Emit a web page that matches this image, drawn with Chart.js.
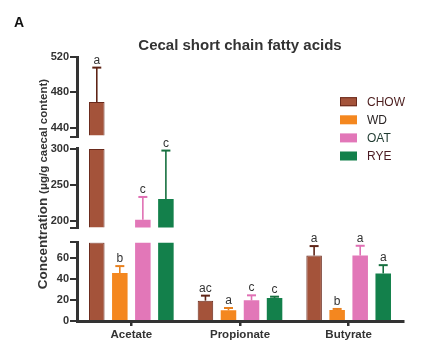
<!DOCTYPE html>
<html><head><meta charset="utf-8">
<script src="https://cdn.jsdelivr.net/npm/chart.js@4.4.1/dist/chart.umd.min.js"></script>
<style>html,body{margin:0;padding:0;background:#fff;}</style>
</head><body>
<canvas id="c" width="438" height="345"></canvas>
<script>
// ---- data ----
const categories = ['Acetate', 'Propionate', 'Butyrate'];
const seriesNames = ['CHOW', 'WD', 'OAT', 'RYE'];
const chowValues = [469, 19.4, 62.5];
const wdValues   = [45.7, 10.2, 10.5];
const oatValues  = [202, 19.7, 62.6];
const ryeValues  = [230.7, 21.9, 45.4];
const chowErr = [39, 4.8, 9];
const wdErr   = [6.7, 2.2, 1];
const oatErr  = [31.5, 4.8, 9.2];
const ryeErr  = [67, 1.3, 7.9];
const chowLetters = ['a', 'ac', 'a'];
const wdLetters   = ['b', 'a', 'b'];
const oatLetters  = ['c', 'c', 'a'];
const ryeLetters  = ['c', 'c', 'a'];
const bottomTicks = [0, 20, 40, 60, 75];
const middleTicks = [190, 200, 250, 300];
const topTicks    = [430, 440, 480, 520];
const breakEnds   = [75, 190, 430];

// ---- styling ----
const fills   = ['#a4533a', '#f4871f', '#e277b8', '#13804b'];
const borders = ['#6a2a1c', '#f4871f', '#e277b8', '#13804b'];
const errCols = ['#5e2416', '#e8801e', '#e070b4', '#16703f'];
const legendText = ['#4a1c1c', '#2a2424', '#1f3a30', '#4a1c24'];
const values = [chowValues, wdValues, oatValues, ryeValues];
const errs = [chowErr, wdErr, oatErr, ryeErr];
const letters = [chowLetters, wdLetters, oatLetters, ryeLetters];

const segments = [
  {id: 'yBot', ticks: bottomTicks, weight: 1, stackWeight: 78.4},
  {id: 'yMid', ticks: middleTicks, weight: 3, stackWeight: 79.3},
  {id: 'yTop', ticks: topTicks, weight: 5, stackWeight: 79.4}
];
segments.forEach(s => { s.min = s.ticks[0]; s.max = s.ticks[s.ticks.length - 1]; });

const AXW = 77;
const datasets = [];
segments.forEach(seg => {
  seriesNames.forEach((name, si) => {
    datasets.push({
      label: name,
      data: values[si].map(v => v > seg.min ? Math.min(v, seg.max) : null),
      yAxisID: seg.id,
      stack: name,
      base: seg.min,
      backgroundColor: fills[si],
      borderColor: borders[si],
      borderWidth: si === 0 ? 1 : 0,
      borderSkipped: 'start',
      barPercentage: 0.674,
      categoryPercentage: 0.848,
      clip: 0
    });
  });
});

function yAxis(seg) {
  return {
    type: 'linear', position: 'left', stack: 'ys', stackWeight: seg.stackWeight, weight: seg.weight,
    min: seg.min, max: seg.max, stacked: false,
    afterBuildTicks: sc => { sc.ticks = seg.ticks.map(v => ({value: v})); },
    afterFit: sc => { sc.width = AXW; },
    grid: {drawOnChartArea: false, drawTicks: true, tickLength: 7, lineWidth: 2, color: '#333'},
    border: {display: true, color: '#333', width: 3},
    ticks: {autoSkip: false, padding: 1, color: '#333', font: {family: 'Liberation Sans, Arial, sans-serif', size: 11, weight: 'bold'},
      callback: v => breakEnds.includes(v) ? '' : String(v)}
  };
}
function gapAxis(w, weight) {
  return {
    type: 'linear', position: 'left', stack: 'ys', stackWeight: w, weight: weight, min: 0, max: 1,
    afterFit: sc => { sc.width = AXW; },
    grid: {display: false}, border: {display: false}, ticks: {display: false}
  };
}

const overlay = {
  id: 'overlay',
  afterDatasetsDraw(chart) {
    const ctx = chart.ctx;
    ctx.save();
    seriesNames.forEach((name, si) => {
      const meta = chart.getDatasetMeta(si);
      categories.forEach((cat, ci) => {
        const x = meta.data[ci].x;
        const v = values[si][ci];
        const top = v + errs[si][ci];
        ctx.strokeStyle = errCols[si];
        segments.forEach(seg => {
          const sc = chart.scales[seg.id];
          const lo = Math.max(v, seg.min), hi = Math.min(top, seg.max);
          if (hi > lo) {
            ctx.lineWidth = 1.6;
            ctx.beginPath();
            ctx.moveTo(x, sc.getPixelForValue(lo));
            ctx.lineTo(x, sc.getPixelForValue(hi));
            ctx.stroke();
          }
          if (top >= seg.min && top <= seg.max) {
            const yt = sc.getPixelForValue(top);
            ctx.lineWidth = 2;
            ctx.beginPath();
            ctx.moveTo(x - 4.5, yt);
            ctx.lineTo(x + 4.5, yt);
            ctx.stroke();
            ctx.fillStyle = '#333';
            ctx.font = '12px "Liberation Sans", Arial, sans-serif';
            ctx.textAlign = 'center';
            ctx.textBaseline = 'alphabetic';
            ctx.fillText(letters[si][ci], x, yt - 4);
          }
        });
      });
    });
    ctx.restore();
  },
  afterDraw(chart) {
    const ctx = chart.ctx;
    const ca = chart.chartArea;
    ctx.save();
    // panel letter
    ctx.fillStyle = '#111';
    ctx.font = 'bold 14px "Liberation Sans", Arial, sans-serif';
    ctx.textAlign = 'left';
    ctx.textBaseline = 'alphabetic';
    ctx.fillText('A', 14, 27);
    // title
    ctx.fillStyle = '#333';
    ctx.font = 'bold 15px "Liberation Sans", Arial, sans-serif';
    ctx.textAlign = 'center';
    ctx.fillText('Cecal short chain fatty acids', (ca.left + ca.right) / 2, 50);
    // y title
    const p1 = 'Concentration ', p2 = '(\u03bcg/g caecal content)';
    const f1 = 'bold 13.5px "Liberation Sans", Arial, sans-serif';
    const f2 = 'bold 11.5px "Liberation Sans", Arial, sans-serif';
    ctx.font = f1; const w1 = ctx.measureText(p1).width;
    ctx.font = f2; const w2 = ctx.measureText(p2).width;
    ctx.translate(47, 184);
    ctx.rotate(-Math.PI / 2);
    ctx.textAlign = 'left';
    ctx.font = f1; ctx.fillText(p1, -(w1 + w2) / 2, 0);
    ctx.font = f2; ctx.fillText(p2, -(w1 + w2) / 2 + w1, 0);
    ctx.setTransform(1, 0, 0, 1, 0, 0);
    // legend
    ctx.font = '12px "Liberation Sans", Arial, sans-serif';
    ctx.textBaseline = 'middle';
    ctx.textAlign = 'left';
    seriesNames.forEach((name, si) => {
      const yc = 101.7 + si * 18.1;
      ctx.fillStyle = fills[si];
      ctx.fillRect(340, yc - 4.5, 17, 9);
      if (si === 0) { ctx.strokeStyle = borders[0]; ctx.lineWidth = 1; ctx.strokeRect(340.5, yc - 4, 16, 8); }
      ctx.fillStyle = legendText[si];
      ctx.fillText(name, 367, yc + 0.5);
    });
    ctx.restore();
  }
};

new Chart(document.getElementById('c'), {
  type: 'bar',
  data: {labels: categories, datasets: datasets},
  options: {
    responsive: false,
    animation: false,
    devicePixelRatio: 1,
    layout: {padding: {top: 57, right: 35, bottom: 0, left: 0}},
    plugins: {legend: {display: false}, title: {display: false}, tooltip: {enabled: false}},
    scales: {
      x: {
        type: 'category', offset: true,
        afterFit: sc => { sc.height = 24; },
        grid: {offset: false, drawOnChartArea: false, drawTicks: true, tickLength: 5, lineWidth: 2.5, color: '#333'},
        border: {display: true, color: '#333', width: 3},
        ticks: {padding: 2, color: '#333', font: {family: 'Liberation Sans, Arial, sans-serif', size: 11.5, weight: 'bold'}}
      },
      yBot: yAxis(segments[0]),
      gap1: gapAxis(14, 2),
      yMid: yAxis(segments[1]),
      gap2: gapAxis(12.3, 4),
      yTop: yAxis(segments[2])
    }
  },
  plugins: [overlay]
});
</script>
</body></html>
